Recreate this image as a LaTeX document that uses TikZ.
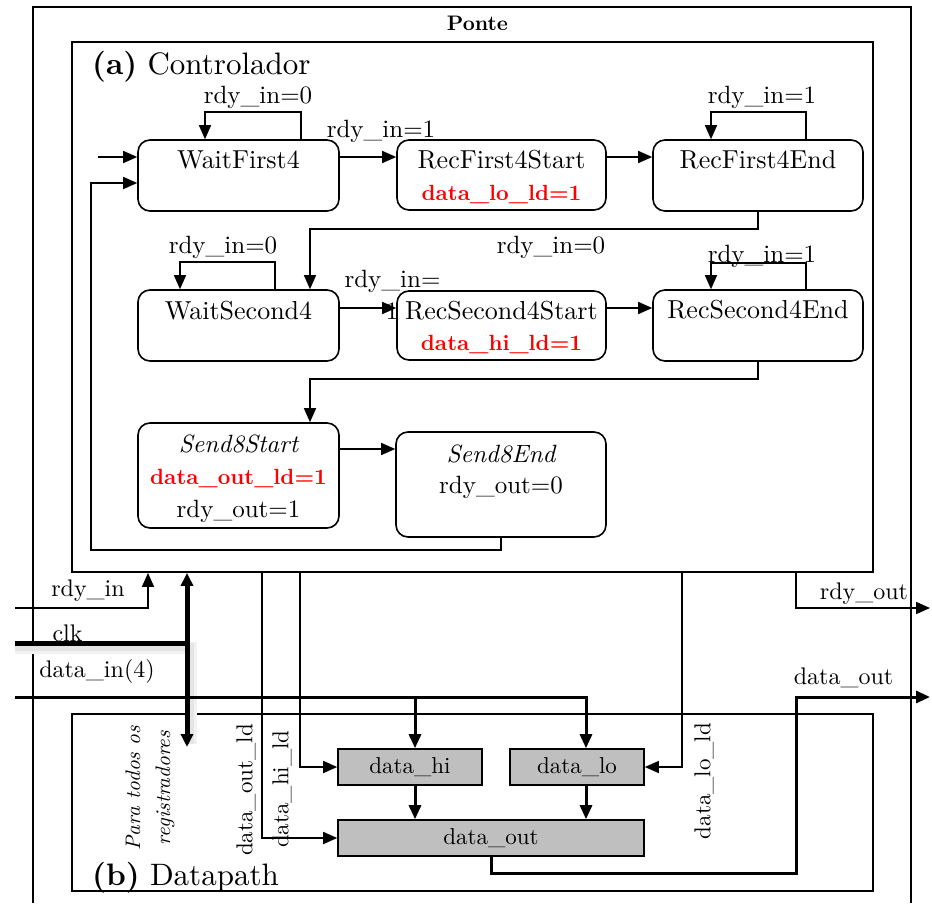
\documentclass[tikz,border=0pt]{standalone}
\usepackage{fontspec}
\setmainfont{lmroman10}[Extension=.otf, UprightFont=*-regular, BoldFont=*-bold, ItalicFont=*-italic, BoldItalicFont=*-bolditalic]
\usetikzlibrary{arrows.meta}
\definecolor{redc}{RGB}{255,0,0}
\definecolor{regc}{RGB}{191,191,191}
\begin{document}
\begin{tikzpicture}[x=1pt,y=-1pt,
  txt/.style={font=\fontsize{24}{28}\selectfont, inner sep=0pt},
  stxt/.style={font=\fontsize{25}{28}\selectfont, inner sep=0pt},
  sname/.style={font=\fontsize{26}{28}\selectfont, inner sep=0pt, anchor=base},
  actl/.style={text=redc, font=\fontsize{22}{26}\selectfont\bfseries, inner sep=0pt},
  state/.style={draw, line width=1.6pt, rounded corners=12pt, inner sep=0pt},
  frame/.style={draw, line width=1.8pt, inner sep=0pt},
  reg/.style={draw, line width=1.6pt, fill=regc, inner sep=0pt, font=\fontsize{23}{28}\selectfont},
  arr/.style={line width=1.5pt, -{Triangle[length=14pt,width=12pt]}},
  bus/.style={line width=3pt, -{Triangle[length=14pt,width=12pt]}},
  clkw/.style={line width=5pt},
  title/.style={font=\fontsize{31}{34}\selectfont, inner sep=0pt, anchor=base west},
]
\fill[white] (0,0) rectangle (932,903);
\useasboundingbox (0,0) rectangle (932,903);

% outer box Ponte
\draw[line width=1.8pt] (33,903) -- (33,7) -- (911,7) -- (911,903);
\node[font=\fontsize{21}{24}\selectfont\bfseries, inner sep=0pt, anchor=base] (ponte) at (477.5,30) {Ponte};

% controller and datapath frames
\node[frame, minimum width=801pt, minimum height=530pt] (ctrl) at (472.5,307) {};
\node[title] (ctrlt) at (92,74) {\textbf{(a)} Controlador};
\node[frame, minimum width=801pt, minimum height=177pt] (dp) at (472.5,802.5) {};
\node[title] (dpt) at (92,885) {\textbf{(b)} Datapath};

% states
\node[state, minimum width=201pt, minimum height=71pt] (wf4) at (238.5,175.5) {};
\node[sname] (wf4t) at (238.5,168) {WaitFirst4};
\node[state, minimum width=209pt, minimum height=70pt] (rf4s) at (501.5,175) {};
\node[sname] (rf4st) at (501.5,168) {RecFirst4Start};
\node[actl, anchor=base] (rf4sa) at (501.5,200) {data\_lo\_ld=1};
\node[state, minimum width=210pt, minimum height=71pt] (rf4e) at (758,175.5) {};
\node[sname] (rf4et) at (758,168) {RecFirst4End};

\node[state, minimum width=201pt, minimum height=71pt] (ws4) at (238.5,325.5) {};
\node[sname] (ws4t) at (238.5,319) {WaitSecond4};
\node[state, minimum width=209pt, minimum height=69pt] (rs4s) at (501.5,325.5) {};
\node[sname] (rs4st) at (501.5,319) {RecSecond4Start};
\node[actl, anchor=base] (rs4sa) at (501.5,350) {data\_hi\_ld=1};
\node[state, minimum width=210pt, minimum height=71pt] (rs4e) at (758,325.5) {};
\node[sname] (rs4et) at (758,318) {RecSecond4End};

\node[state, minimum width=201pt, minimum height=105pt] (s8s) at (238.5,475.5) {};
\node[stxt, anchor=base] (s8st) at (238.5,452) {\itshape Send8Start};
\node[actl, anchor=base] (s8sa) at (238.5,484) {data\_out\_ld=1};
\node[stxt, anchor=base] (s8sb) at (238.5,517) {rdy\_out=1};
\node[state, minimum width=210pt, minimum height=105pt] (s8e) at (501,484.5) {};
\node[stxt, anchor=base] (s8et) at (501,462) {\itshape Send8End};
\node[stxt, anchor=base] (s8eb) at (501,493) {rdy\_out=0};

% transitions
\coordinate (entry) at (98,157);
\coordinate (back) at (91,550);
\coordinate (entry2) at (91,183);
\coordinate (r2) at (0,308);
\coordinate (r3) at (0,449);
\draw[arr] (entry) -- (wf4.west |- entry);
\draw[arr] ([xshift=62.5pt]wf4.north) -- ++(0,-27) -| ([xshift=-33.5pt]wf4.north);
\node[stxt, anchor=base] (l1) at (258,103) {rdy\_in=0};
\draw[arr] (wf4.east |- entry) -- (rf4s.west |- entry);
\node[stxt, anchor=base] (l2) at (381,137) {rdy\_in=1};
\draw[arr] (rf4s.east |- entry) -- (rf4e.west |- entry);
\draw[arr] ([xshift=48pt]rf4e.north) -- ++(0,-27) -| ([xshift=-47pt]rf4e.north);
\node[stxt, anchor=base] (l3) at (762,103) {rdy\_in=1};
\draw[arr] (rf4e.south) -- ++(0,17) -| ([xshift=71.5pt]ws4.north);
\node[stxt, anchor=base] (l4) at (551,253) {rdy\_in=0};
\draw[arr] ([xshift=36.5pt]ws4.north) -- ++(0,-27) -| ([xshift=-58.5pt]ws4.north);
\node[stxt, anchor=base] (l5) at (223,253) {rdy\_in=0};
\draw[arr] (ws4.east |- r2) -- (rs4s.west |- r2);
\node[stxt, anchor=base] (l6a) at (392.5,287) {rdy\_in=};
\node[stxt, anchor=base] (l6b) at (392,319) {1};
\draw[arr] (rs4s.east |- r2) -- (rs4e.west |- r2);
\draw[arr] ([xshift=48pt]rs4e.north) -- ++(0,-26) -| ([xshift=-47pt]rs4e.north);
\node[stxt, anchor=base] (l7) at (762,262) {rdy\_in=1};
\draw[arr] (rs4e.south) -- ++(0,17) -| ([xshift=71.5pt]s8s.north);
\draw[arr] (s8s.east |- r3) -- (s8e.west |- r3);
\draw[arr] (s8e.south) |- (back) |- (wf4.west |- entry2);

% datapath registers
\node[reg, minimum width=144pt, minimum height=36pt] (dhi) at (410,767) {data\_hi};
\node[reg, minimum width=134pt, minimum height=36pt] (dlo) at (577,767) {data\_lo};
\node[reg, minimum width=306pt, minimum height=36pt] (dout) at (491,838) {data\_out};

% clock shadow
\draw[line width=12pt, black!5] (15,648) -- (191,648) -- (191,744);
\draw[line width=8pt, black!10] (15,647) -- (190,647) -- (190,744);

% inputs
\coordinate (rdyinS) at (15,608);
\coordinate (rdyinX) at (148,0);
\draw[arr] (rdyinS) -| (ctrl.south -| rdyinX);
\node[txt, anchor=base] (rdyinl) at (88,596) {rdy\_in};

\coordinate (clkS) at (15,643);
\coordinate (clkJ) at (189.5,643);
\coordinate (clkX) at (187,0);
\coordinate (clkE) at (187,747);
\node[txt, anchor=base] (clkl) at (67.5,641) {clk};
\draw[clkw] (clkS) -- (clkJ);
\draw[clkw, {Triangle[length=13pt,width=12pt]}-{Triangle[length=13pt,width=12pt]}] (ctrl.south -| clkX) -- (clkE);

\coordinate (dinS) at (15,697);
\coordinate (dinJ1) at (415,697);
\coordinate (dinJ2) at (586,697);
\node[txt, anchor=base] (dinl) at (97,677) {data\_in(4)};
\draw[bus] (dinS) -| (dlo.north -| dinJ2);
\draw[bus] (dinJ1) -- (dhi.north -| dinJ1);
\draw[bus] (dhi.south -| dinJ1) -- (dout.north -| dinJ1);
\draw[bus] (dlo.south -| dinJ2) -- (dout.north -| dinJ2);

% outputs
\coordinate (doutX) at (796,697);
\coordinate (doutE) at (930,697);
\draw[bus] (dout.south) -- ++(0,17) -| (doutX) -- (doutE);
\node[txt, anchor=base] (doutl) at (843.5,684) {data\_out};
\coordinate (rdyoX) at (796,0);
\coordinate (rdyoE) at (930,608);
\draw[arr] (ctrl.south -| rdyoX) |- (rdyoE);
\node[txt, anchor=base] (rdyol) at (864,599) {rdy\_out};

% control signals
\coordinate (hildX) at (300,0);
\coordinate (outldX) at (262,0);
\coordinate (loldX) at (682,0);
\draw[arr] (ctrl.south -| hildX) |- (dhi.west);
\draw[arr] (ctrl.south -| outldX) |- (dout.west);
\draw[arr] (ctrl.south -| loldX) |- (dlo.east);
\node[font=\fontsize{23}{28}\selectfont, inner sep=0pt, rotate=90] (outldl) at (246,790) {data\_out\_ld};
\node[font=\fontsize{23}{28}\selectfont, inner sep=0pt, rotate=90] (hildl) at (282,789) {data\_hi\_ld};
\node[font=\fontsize{23}{28}\selectfont, inner sep=0pt, rotate=90] (loldl) at (704,781) {data\_lo\_ld};
\node[font=\fontsize{21}{30}\selectfont\itshape, inner sep=0pt, rotate=90, align=center] (para) at (150,788) {Para todos os\\registradores};
\end{tikzpicture}
\end{document}
